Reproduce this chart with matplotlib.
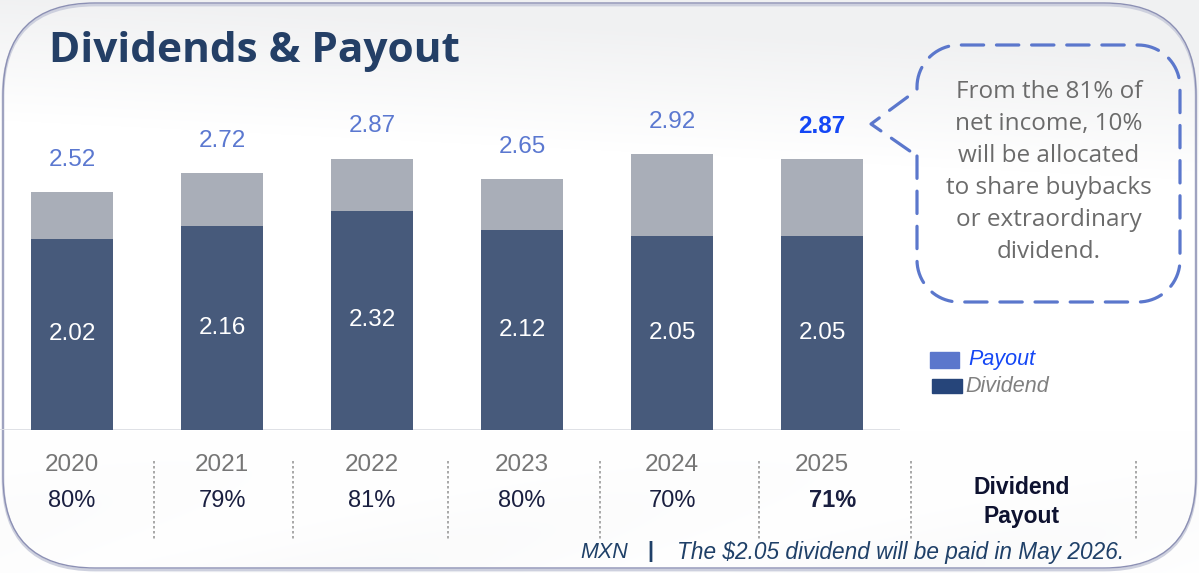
import matplotlib
matplotlib.use('Agg')
import matplotlib.pyplot as plt
from matplotlib.patches import FancyBboxPatch, Rectangle
import numpy as np

plt.rcParams['font.family'] = ['Liberation Sans', 'DejaVu Sans']

# 数据
years = ['2020', '2021', '2022', '2023', '2024', '2025']
dividend = [2.02, 2.16, 2.32, 2.12, 2.05, 2.05]
payout_total = [2.52, 2.72, 2.87, 2.65, 2.92, 2.87]
payout_ratio = ['80%', '79%', '81%', '80%', '70%', '71%']
note_lines = ['From the 81% of', 'net income, 10%', 'will be allocated',
              'to share buybacks', 'or extraordinary', 'dividend.']

DARK = '#475A7B'
GRAY = '#A9AEB8'
LABEL_BLUE = '#5B78D0'
BRIGHT_BLUE = '#1447F5'
NAVY = '#243F66'

fig = plt.figure(figsize=(11.99, 5.73), dpi=100)

# 背景层（像素坐标）
bg = fig.add_axes([0, 0, 1, 1], zorder=0)
bg.set_xlim(0, 1199)
bg.set_ylim(573, 0)
bg.axis('off')

# 顶部和底部的浅灰渐变
yy, xx = np.mgrid[0:573, 0:1199]
shade = np.zeros((573, 1199))
top = np.clip((120 - yy + 0.05 * xx) / 120, 0, 1)
shade += 0.055 * top
bottom = np.clip((yy - 430) / 140, 0, 1)
shade += 0.018 * bottom * (0.6 + 0.4 * np.sin(xx / 90 + yy / 25))
img = np.ones((573, 1199, 3))
img -= shade[..., None] * np.array([1.0, 0.96, 0.88])
bg.imshow(img, extent=(0, 1199, 573, 0), aspect='auto', zorder=0)

# 外框
bg.add_patch(FancyBboxPatch((3, 5), 1193, 565, boxstyle='round,pad=0,rounding_size=92',
                            fc='none', ec='#CDD0DE', lw=2, zorder=1))
bg.add_patch(FancyBboxPatch((3, 3), 1193, 565, boxstyle='round,pad=0,rounding_size=92',
                            fc='none', ec='#8C90B4', lw=1, zorder=2))

# 标题
bg.text(49, 52, 'Dividends & Payout', fontsize=30.5, fontweight='bold', color=NAVY,
        va='center', ha='left', family=['Open Sans', 'DejaVu Sans'], zorder=3)

# 柱状图
ax = fig.add_axes([0, 143 / 573, 900 / 1199, 331 / 573], zorder=2)
ax.patch.set_alpha(0)
x = np.arange(len(years))
extra = [t - d for t, d in zip(payout_total, dividend)]
ax.bar(x, dividend, width=0.547, color=DARK, zorder=2)
ax.bar(x, extra, bottom=dividend, width=0.547, color=GRAY, zorder=2)
ax.set_xlim(-0.48, 5.52)
ax.set_ylim(0, 3.5)
ax.axis('off')
ax.axhline(0, color='#DCDEE4', lw=2, zorder=1)

for i in range(len(years)):
    last = i == len(years) - 1
    ax.text(x[i], payout_total[i] + 0.34, f'{payout_total[i]:.2f}', ha='center', va='center',
            fontsize=17.5, color=BRIGHT_BLUE if last else LABEL_BLUE,
            fontweight='bold' if last else 'normal')
    ax.text(x[i], dividend[i] / 2, f'{dividend[i]:.2f}', ha='center', va='center',
            fontsize=17.5, color='white')
    ax.text(x[i], -0.37, years[i], ha='center', va='center', fontsize=17.5,
            color='#767676', clip_on=False)
    ax.text(x[i] + (0.07 if last else 0), -0.75, payout_ratio[i], ha='center', va='center',
            fontsize=17, color='#1A1F40', fontweight='bold' if last else 'normal',
            clip_on=False)

# 分隔虚线
for sx in [154, 293, 448, 600, 759, 911, 1136]:
    bg.plot([sx, sx], [461, 539], ls=(0, (1.5, 1.5)), color='#9A9A9A', lw=1.2, zorder=3)

bg.text(1022, 487, 'Dividend', ha='center', va='center', fontsize=16.5,
        fontweight='bold', color='#0E1230', zorder=3)
bg.text(1022, 517, 'Payout', ha='center', va='center', fontsize=16.5,
        fontweight='bold', color='#0E1230', zorder=3)

# 图例
bg.add_patch(Rectangle((930, 352), 29, 16, color='#5B77CC', zorder=3))
bg.add_patch(Rectangle((932, 379), 30, 14, color='#26457A', zorder=3))
bg.text(968, 360, 'Payout', fontsize=15.5, style='italic', color=BRIGHT_BLUE,
        va='center', ha='left', zorder=3)
bg.text(965, 386, 'Dividend', fontsize=15.5, style='italic', color='#808080',
        va='center', ha='left', zorder=3)

# 注释气泡
def callout_path(x0, y0, x1, y1, r, tip, n0, n1):
    pts = []
    def arc(cx, cy, a0, a1):
        t = np.linspace(np.radians(a0), np.radians(a1), 20)
        return list(zip(cx + r * np.cos(t), cy + r * np.sin(t)))
    pts += [(x0, n1), (x0, y1 - r)]
    pts += arc(x0 + r, y1 - r, 180, 90)
    pts += [(x1 - r, y1)]
    pts += arc(x1 - r, y1 - r, 90, 0)
    pts += [(x1, y0 + r)]
    pts += arc(x1 - r, y0 + r, 0, -90)
    pts += [(x0 + r, y0)]
    pts += arc(x0 + r, y0 + r, -90, -180)
    pts += [(x0, n0), tip, (x0, n1)]
    return np.array(pts)

cp = callout_path(917, 45, 1180, 302, 42, (871, 124), 90, 156)
bg.plot(cp[:, 0], cp[:, 1], color='#5B77CC', lw=2.3, ls=(0, (7, 4)),
        solid_capstyle='round', dash_capstyle='round', zorder=3)

for k, line in enumerate(note_lines):
    bg.text(1049, 92 + 32 * k, line, ha='center', va='center', fontsize=17.5,
            color='#6B6B6B', family=['Open Sans', 'DejaVu Sans'], zorder=3)

# 页脚
bg.text(580, 552, 'MXN', fontsize=15.5, style='italic', color='#1F4068', va='center', zorder=3)
bg.text(647, 552, '|', fontsize=15.5, fontweight='bold', color='#1F4068', va='center', zorder=3)
bg.text(677, 552, 'The $2.05 dividend will be paid in May 2026.', fontsize=16.3,
        style='italic', color='#1F4068', va='center', zorder=3)

fig.savefig('out.png', dpi=100)
